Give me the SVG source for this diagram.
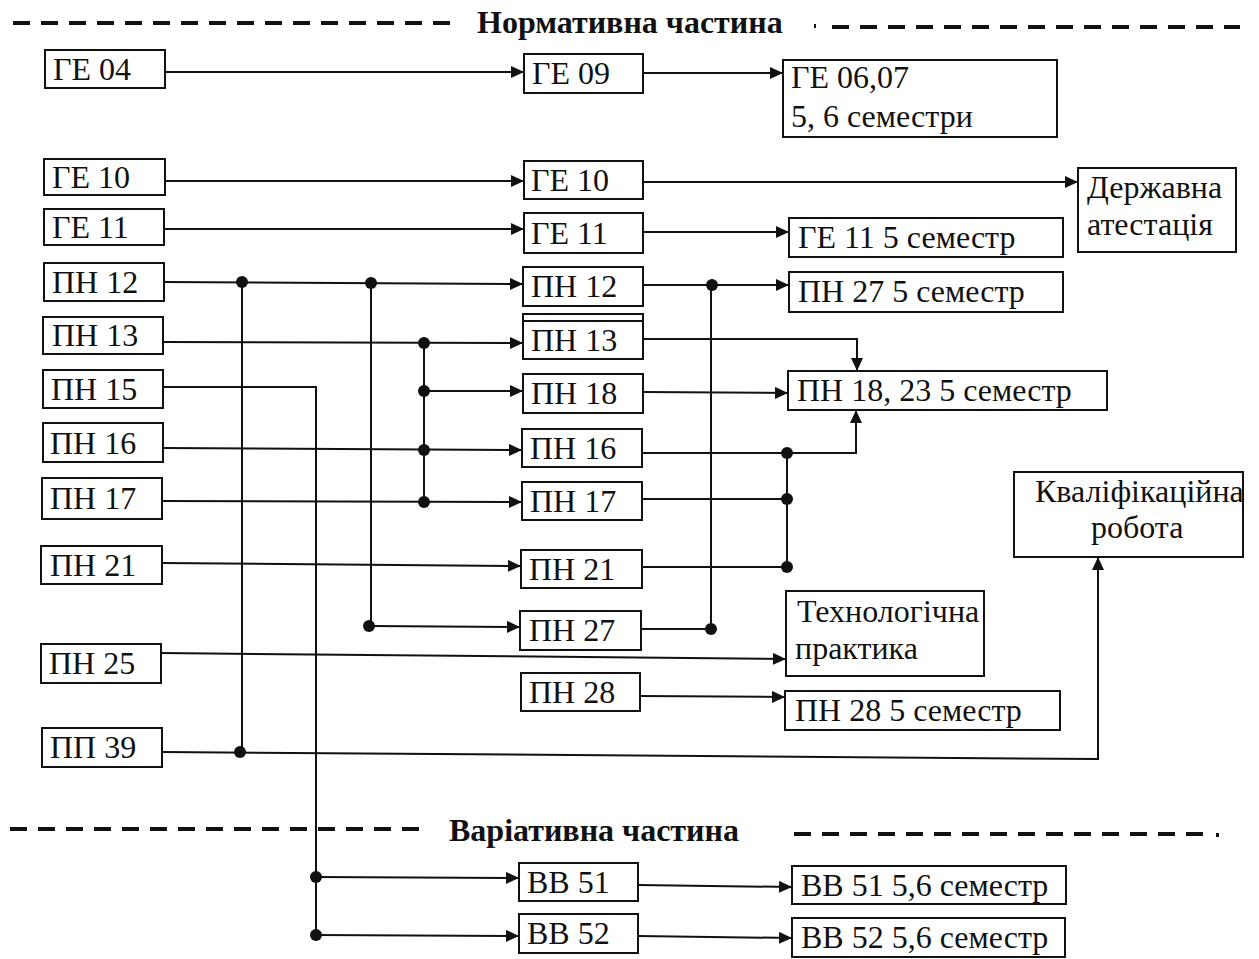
<svg xmlns="http://www.w3.org/2000/svg" width="1259" height="959" viewBox="0 0 1259 959">
<style>
.box{fill:#fff;stroke:#111;stroke-width:2}
.t{font-family:"Liberation Serif","Times New Roman",serif;font-size:32px;fill:#111}
.h{font-family:"Liberation Serif","Times New Roman",serif;font-size:32px;font-weight:bold;fill:#111}
.c{fill:none;stroke:#111;stroke-width:2}
.a{marker-end:url(#ah)}
.d{fill:#111}
.dash{stroke:#111;stroke-width:4;stroke-dasharray:17 11;fill:none}
</style>
<defs>
<marker id="ah" markerUnits="userSpaceOnUse" markerWidth="14" markerHeight="12" refX="13" refY="6" orient="auto">
<path d="M0,0 L13,6 L0,12 z" fill="#111"/>
</marker>
</defs>
<rect width="1259" height="959" fill="#fff"/>

<g id="headers">
<line class="dash" x1="13" y1="23" x2="455" y2="23"/>
<text class="h" x="477" y="33">Нормативна частина</text>
<rect x="814" y="24" width="2" height="4" class="d"/>
<line class="dash" x1="832" y1="27" x2="1240" y2="27"/>
<line class="dash" x1="10" y1="829" x2="420" y2="829"/>
<text class="h" x="449" y="841">Варіативна частина</text>
<line class="dash" x1="794" y1="834" x2="1210" y2="834"/>
<rect x="1216" y="833" width="3" height="4" class="d"/>
</g>

<g id="connectors">
<line class="c a" x1="165" y1="72" x2="524" y2="72"/>
<line class="c a" x1="643" y1="73" x2="783" y2="73"/>
<line class="c a" x1="165" y1="181" x2="524" y2="181"/>
<line class="c a" x1="643" y1="182" x2="1078" y2="182"/>
<line class="c a" x1="164" y1="229" x2="524" y2="229"/>
<line class="c a" x1="643" y1="232" x2="789" y2="232"/>
<line class="c a" x1="164" y1="282" x2="523" y2="284"/>
<line class="c a" x1="643" y1="285" x2="789" y2="285"/>
<line class="c" x1="242" y1="282" x2="242" y2="752"/>
<line class="c" x1="371" y1="283" x2="371" y2="626"/>
<line class="c a" x1="371" y1="626" x2="520" y2="627"/>
<line class="c" x1="711" y1="285" x2="711" y2="629"/>
<line class="c" x1="641" y1="629" x2="711" y2="629"/>
<line class="c a" x1="163" y1="342" x2="523" y2="343"/>
<line class="c" x1="424" y1="343" x2="424" y2="502"/>
<line class="c a" x1="424" y1="391" x2="523" y2="391"/>
<line class="c a" x1="163" y1="448" x2="522" y2="450"/>
<line class="c a" x1="163" y1="501" x2="522" y2="502"/>
<line class="c a" x1="162" y1="563" x2="521" y2="566"/>
<path class="c" d="M163,387 H316 V935"/>
<line class="c a" x1="316" y1="877" x2="519" y2="878"/>
<line class="c a" x1="316" y1="935" x2="519" y2="936"/>
<path class="c a" d="M643,339 H857 V371"/>
<line class="c a" x1="643" y1="392" x2="788" y2="393"/>
<path class="c a" d="M642,453 H856 V410"/>
<line class="c" x1="642" y1="499" x2="787" y2="499"/>
<line class="c" x1="642" y1="567" x2="787" y2="567"/>
<line class="c" x1="787" y1="453" x2="787" y2="567"/>
<line class="c a" x1="161" y1="653" x2="786" y2="659"/>
<line class="c a" x1="640" y1="696" x2="785" y2="697"/>
<path class="c a" d="M162,752 L1098,759 V557"/>
<line class="c a" x1="638" y1="885" x2="792" y2="887"/>
<line class="c a" x1="638" y1="936" x2="792" y2="938"/>
<circle class="d" cx="242" cy="282" r="6"/>
<circle class="d" cx="371" cy="283" r="6"/>
<circle class="d" cx="712" cy="285" r="6"/>
<circle class="d" cx="369" cy="626" r="6"/>
<circle class="d" cx="711" cy="629" r="6"/>
<circle class="d" cx="424" cy="343" r="6"/>
<circle class="d" cx="424" cy="391" r="6"/>
<circle class="d" cx="424" cy="450" r="6"/>
<circle class="d" cx="424" cy="502" r="6"/>
<circle class="d" cx="787" cy="453" r="6"/>
<circle class="d" cx="787" cy="499" r="6"/>
<circle class="d" cx="787" cy="567" r="6"/>
<circle class="d" cx="240" cy="752" r="6"/>
<circle class="d" cx="316" cy="877" r="6"/>
<circle class="d" cx="316" cy="935" r="6"/>
</g>

<g id="n-ge04-l"><rect class="box" x="45" y="50" width="120" height="38"/><text class="t" x="53" y="80">ГЕ 04</text></g>
<g id="n-ge10-l"><rect class="box" x="44" y="159" width="121" height="36"/><text class="t" x="52" y="188">ГЕ 10</text></g>
<g id="n-ge11-l"><rect class="box" x="44" y="209" width="120" height="36"/><text class="t" x="52" y="238">ГЕ 11</text></g>
<g id="n-pn12-l"><rect class="box" x="44" y="263" width="120" height="38"/><text class="t" x="52" y="293">ПН 12</text></g>
<g id="n-pn13-l"><rect class="box" x="43" y="317" width="120" height="37"/><text class="t" x="52" y="346">ПН 13</text></g>
<g id="n-pn15-l"><rect class="box" x="43" y="370" width="120" height="38"/><text class="t" x="51" y="400">ПН 15</text></g>
<g id="n-pn16-l"><rect class="box" x="43" y="423" width="120" height="39"/><text class="t" x="50" y="454">ПН 16</text></g>
<g id="n-pn17-l"><rect class="box" x="42" y="478" width="120" height="41"/><text class="t" x="50" y="509">ПН 17</text></g>
<g id="n-pn21-l"><rect class="box" x="41" y="546" width="121" height="38"/><text class="t" x="50" y="576">ПН 21</text></g>
<g id="n-pn25-l"><rect class="box" x="41" y="644" width="120" height="39"/><text class="t" x="49" y="674">ПН 25</text></g>
<g id="n-pp39-l"><rect class="box" x="42" y="728" width="120" height="39"/><text class="t" x="50" y="758">ПП 39</text></g>

<g id="n-ge09"><rect class="box" x="524" y="54" width="119" height="39"/><text class="t" x="532" y="84">ГЕ 09</text></g>
<g id="n-ge10-m"><rect class="box" x="524" y="161" width="119" height="38"/><text class="t" x="531" y="191">ГЕ 10</text></g>
<g id="n-ge11-m"><rect class="box" x="524" y="213" width="119" height="40"/><text class="t" x="531" y="244">ГЕ 11</text></g>
<g id="n-pn12-m"><rect class="box" x="523" y="267" width="120" height="39"/><text class="t" x="531" y="297">ПН 12</text></g>
<g id="n-pn13-m"><rect class="box" x="523" y="314" width="120" height="45"/><line class="c" x1="523" y1="321" x2="643" y2="321"/><text class="t" x="531" y="351">ПН 13</text></g>
<g id="n-pn18-m"><rect class="box" x="523" y="374" width="120" height="39"/><text class="t" x="531" y="404">ПН 18</text></g>
<g id="n-pn16-m"><rect class="box" x="522" y="429" width="120" height="38"/><text class="t" x="530" y="459">ПН 16</text></g>
<g id="n-pn17-m"><rect class="box" x="522" y="482" width="120" height="38"/><text class="t" x="530" y="512">ПН 17</text></g>
<g id="n-pn21-m"><rect class="box" x="521" y="550" width="121" height="38"/><text class="t" x="529" y="580">ПН 21</text></g>
<g id="n-pn27-m"><rect class="box" x="520" y="611" width="121" height="39"/><text class="t" x="529" y="641">ПН 27</text></g>
<g id="n-pn28-m"><rect class="box" x="521" y="673" width="119" height="38"/><text class="t" x="529" y="703">ПН 28</text></g>
<g id="n-vv51"><rect class="box" x="519" y="863" width="119" height="38"/><text class="t" x="527" y="893">ВВ 51</text></g>
<g id="n-vv52"><rect class="box" x="519" y="914" width="119" height="39"/><text class="t" x="527" y="944">ВВ 52</text></g>

<g id="n-ge0607"><rect class="box" x="783" y="60" width="274" height="77"/><text class="t" x="791" y="88">ГЕ 06,07</text><text class="t" x="791" y="127">5, 6 семестри</text></g>
<g id="n-derzh"><rect class="box" x="1078" y="168" width="158" height="84"/><text class="t" x="1087" y="198">Державна</text><text class="t" x="1087" y="235">атестація</text></g>
<g id="n-ge11-5"><rect class="box" x="789" y="218" width="274" height="39"/><text class="t" x="798" y="248">ГЕ 11 5 семестр</text></g>
<g id="n-pn27-5"><rect class="box" x="789" y="272" width="274" height="40"/><text class="t" x="798" y="302">ПН 27 5 семестр</text></g>
<g id="n-pn1823"><rect class="box" x="788" y="371" width="319" height="39"/><text class="t" x="797" y="401">ПН 18, 23 5 семестр</text></g>
<g id="n-kval"><rect class="box" x="1014" y="472" width="229" height="85"/><text class="t" x="1035" y="502">Кваліфікаційна</text><text class="t" x="1091" y="538">робота</text></g>
<g id="n-tech"><rect class="box" x="786" y="591" width="198" height="85"/><text class="t" x="797" y="622">Технологічна</text><text class="t" x="795" y="659">практика</text></g>
<g id="n-pn28-5"><rect class="box" x="785" y="691" width="275" height="39"/><text class="t" x="795" y="721">ПН 28 5 семестр</text></g>
<g id="n-vv51-56"><rect class="box" x="792" y="866" width="274" height="38"/><text class="t" x="801" y="896">ВВ 51 5,6 семестр</text></g>
<g id="n-vv52-56"><rect class="box" x="792" y="918" width="273" height="39"/><text class="t" x="801" y="948">ВВ 52 5,6 семестр</text></g>
</svg>
